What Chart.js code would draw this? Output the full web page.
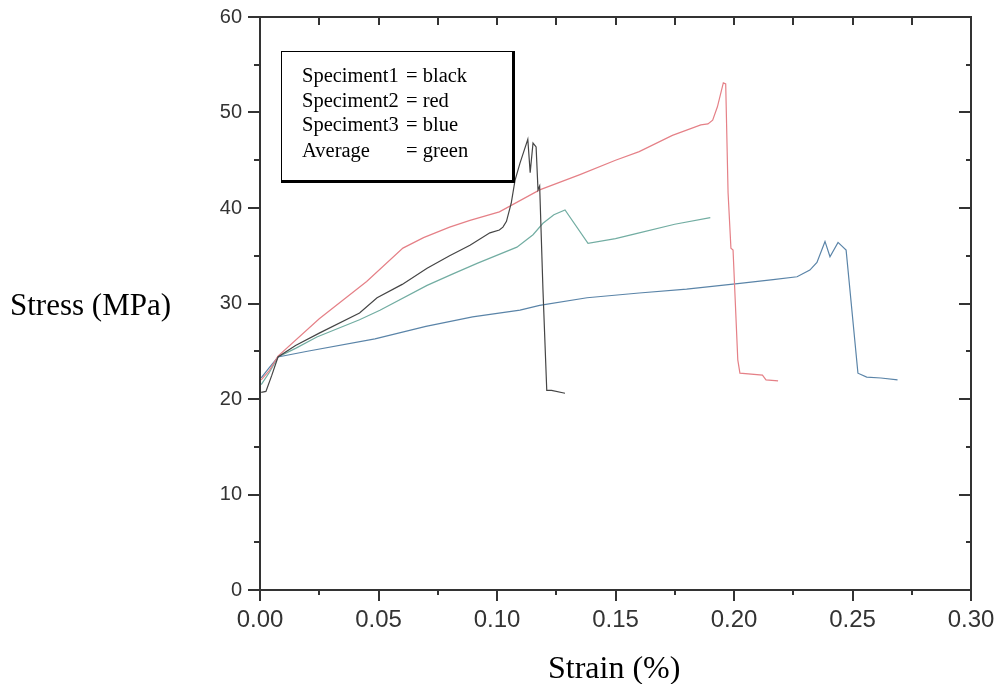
<!DOCTYPE html>
<html>
<head>
<meta charset="utf-8">
<script src="https://cdn.jsdelivr.net/npm/chart.js@4.4.1/dist/chart.umd.min.js"></script>
<style>
  body { margin: 0; background: #fff; }
  #wrap { position: relative; width: 997px; height: 684px; }
  .ttl { position: absolute; font-family: "Liberation Serif", "Times New Roman", serif; color: #000; white-space: nowrap; line-height: 36px; }
  #legendBox { position: absolute; left: 281px; top: 51px; width: 230px; height: 128px;
    border: 1.5px solid #000; border-right-width: 3px; border-bottom-width: 3px;
    font-family: "Liberation Serif", "Times New Roman", serif; font-size: 20.5px; color: #000; }
  .row { position: absolute; left: 20px; height: 24px; line-height: 24px; white-space: nowrap; }
  .row span { position: absolute; left: 104px; }
</style>
</head>
<body>
<div id="wrap">
  <canvas id="graph" width="997" height="684"></canvas>
  <div class="ttl" style="left:10px; top:287px; font-size:31px;">Stress (MPa)</div>
  <div class="ttl" style="left:548px; top:649px; font-size:32px;">Strain (%)</div>
  <div id="legendBox">
    <div class="row" style="top:11px;">Speciment1<span>= black</span></div>
    <div class="row" style="top:36px;">Speciment2<span>= red</span></div>
    <div class="row" style="top:60px;">Speciment3<span>= blue</span></div>
    <div class="row" style="top:86px;">Average<span>= green</span></div>
  </div>
</div>
<script>
  // valeurs (déformation en %, contrainte en MPa)
  const strain1 = [0.0005, 0.0025, 0.005, 0.0076, 0.015, 0.025, 0.042, 0.0494, 0.06, 0.0705, 0.08, 0.0886, 0.097, 0.101, 0.1025, 0.104, 0.106, 0.1076, 0.1097, 0.113, 0.114, 0.1152, 0.1165, 0.1173, 0.118, 0.1194, 0.121, 0.123, 0.1287];
  const stress1 = [20.7, 20.8, 22.5, 24.4, 25.6, 26.9, 29.0, 30.6, 32.0, 33.7, 35.0, 36.1, 37.4, 37.7, 38.0, 38.6, 40.5, 42.9, 44.7, 47.2, 43.7, 46.8, 46.4, 41.9, 42.3, 31.4, 20.9, 20.9, 20.6];

  const strain2 = [0.0005, 0.004, 0.0076, 0.025, 0.045, 0.0603, 0.069, 0.080, 0.0886, 0.101, 0.118, 0.135, 0.150, 0.160, 0.174, 0.186, 0.189, 0.191, 0.193, 0.1955, 0.1965, 0.1975, 0.1987, 0.1996, 0.2016, 0.2025, 0.212, 0.2135, 0.2186];
  const stress2 = [22.0, 23.0, 24.5, 28.4, 32.3, 35.8, 36.9, 38.0, 38.7, 39.6, 41.9, 43.5, 45.0, 45.9, 47.6, 48.7, 48.8, 49.2, 50.6, 53.1, 53.0, 41.6, 35.8, 35.6, 24.1, 22.7, 22.5, 22.0, 21.9];

  const strain3 = [0.0005, 0.004, 0.0076, 0.02, 0.0485, 0.07, 0.0897, 0.1097, 0.118, 0.138, 0.160, 0.180, 0.2025, 0.2165, 0.2266, 0.232, 0.235, 0.2384, 0.2405, 0.2439, 0.2473, 0.2523, 0.256, 0.262, 0.269];
  const stress3 = [22.2, 23.3, 24.4, 25.0, 26.3, 27.6, 28.6, 29.3, 29.8, 30.6, 31.1, 31.5, 32.1, 32.5, 32.8, 33.5, 34.3, 36.5, 34.9, 36.4, 35.6, 22.7, 22.3, 22.2, 22.0];

  const strainAvg = [0.0005, 0.004, 0.0076, 0.015, 0.024, 0.042, 0.0506, 0.0705, 0.0814, 0.0916, 0.1084, 0.1152, 0.1194, 0.124, 0.1287, 0.1384, 0.150, 0.160, 0.175, 0.190];
  const stressAvg = [21.5, 22.8, 24.4, 25.3, 26.5, 28.3, 29.3, 31.9, 33.1, 34.2, 35.9, 37.2, 38.4, 39.3, 39.8, 36.3, 36.8, 37.4, 38.3, 39.0];

  const xTicks = [0, 0.05, 0.10, 0.15, 0.20, 0.25, 0.30];
  const yTicks = [0, 10, 20, 30, 40, 50, 60];

  // assemble les points {x,y} d'une série
  function points (xs, ys) {
    return xs.map((x, i) => ({ x: x, y: ys[i] }));
  }

  function serie (label, xs, ys, color) {
    return {
      label: label,
      data: points(xs, ys),
      borderColor: color,
      borderWidth: 1.2,
      pointRadius: 0,
      tension: 0,
      fill: false
    };
  }

  // cadre + graduations (majeures et mineures) sur les 4 côtés
  const framePlugin = {
    id: 'frame',
    afterDraw (chart) {
      const ctx = chart.ctx;
      const a = chart.chartArea;
      const xs = chart.scales.x;
      const ys = chart.scales.y;
      ctx.save();
      ctx.strokeStyle = '#333';
      ctx.lineWidth = 2;
      ctx.strokeRect(a.left, a.top, a.right - a.left, a.bottom - a.top);
      ctx.beginPath();
      for (let i = 0; i <= 12; i++) {
        const v = i * 0.025;
        const px = Math.round(xs.getPixelForValue(v));
        const major = i % 2 === 0;
        ctx.moveTo(px, a.bottom);
        ctx.lineTo(px, a.bottom + (major ? 11 : 5));
        ctx.moveTo(px, a.top);
        ctx.lineTo(px, a.top + 8);
      }
      for (let i = 0; i <= 12; i++) {
        const v = i * 5;
        const py = Math.round(ys.getPixelForValue(v));
        const major = i % 2 === 0;
        ctx.moveTo(a.left, py);
        ctx.lineTo(a.left - (major ? 12 : 6), py);
        ctx.moveTo(a.right, py);
        ctx.lineTo(a.right - (major ? 12 : 5), py);
      }
      ctx.stroke();
      ctx.restore();
    }
  };

  new Chart(document.getElementById('graph').getContext('2d'), {
    type: 'line',
    data: {
      datasets: [
        serie('Speciment1', strain1, stress1, '#454545'),
        serie('Speciment2', strain2, stress2, '#e58087'),
        serie('Speciment3', strain3, stress3, '#5a84a8'),
        serie('Average', strainAvg, stressAvg, '#72ada2')
      ]
    },
    options: {
      responsive: false,
      animation: false,
      layout: { padding: { top: 17, right: 26, left: 0, bottom: 0 } },
      plugins: {
        legend: { display: false },
        tooltip: { enabled: false }
      },
      scales: {
        x: {
          type: 'linear',
          min: 0,
          max: 0.3,
          afterFit: function (scale) {
            scale.height = 94;
            scale.paddingLeft = 0;
            scale.paddingRight = 0;
          },
          afterBuildTicks: function (scale) { scale.ticks = xTicks.map(v => ({ value: v })); },
          grid: { display: false },
          border: { display: false },
          ticks: {
            padding: 8,
            color: '#333',
            maxRotation: 0,
            font: { family: 'Liberation Sans, Arial, sans-serif', size: 24 },
            callback: function (value) { return value.toFixed(2); }
          }
        },
        y: {
          type: 'linear',
          min: 0,
          max: 60,
          afterFit: function (scale) {
            scale.width = 260;
            scale.paddingTop = 0;
            scale.paddingBottom = 0;
          },
          afterBuildTicks: function (scale) { scale.ticks = yTicks.map(v => ({ value: v })); },
          grid: { display: false },
          border: { display: false },
          ticks: {
            padding: 10,
            color: '#333',
            font: { family: 'Liberation Sans, Arial, sans-serif', size: 20 }
          }
        }
      }
    },
    plugins: [framePlugin]
  });
</script>
</body>
</html>
